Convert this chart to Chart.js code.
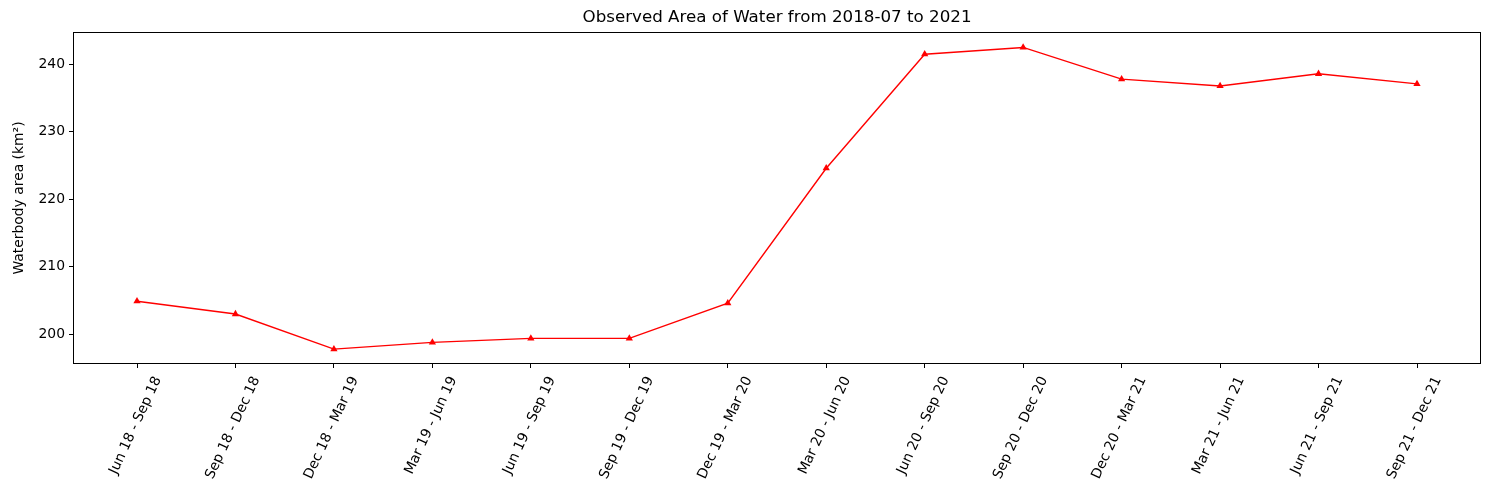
<!DOCTYPE html>
<html>
<head>
<meta charset="utf-8">
<script src="https://cdn.jsdelivr.net/npm/chart.js@4.4.0/dist/chart.umd.min.js"></script>
<style>
  html, body { margin: 0; padding: 0; background: #fff; }
  #wrap { width: 1489px; height: 490px; }
</style>
</head>
<body>
<div id="wrap"><canvas id="c" width="1489" height="490"></canvas></div>
<script>
const categories = ["Jun 18 - Sep 18", "Sep 18 - Dec 18", "Dec 18 - Mar 19", "Mar 19 - Jun 19",
  "Jun 19 - Sep 19", "Sep 19 - Dec 19", "Dec 19 - Mar 20", "Mar 20 - Jun 20",
  "Jun 20 - Sep 20", "Sep 20 - Dec 20", "Dec 20 - Mar 21", "Mar 21 - Jun 21",
  "Jun 21 - Sep 21", "Sep 21 - Dec 21"];
const waterArea = [204.9, 203.0, 197.8, 198.8, 199.4, 199.4, 204.6, 224.6,
  241.5, 242.5, 237.8, 236.8, 238.6, 237.1];
const yTicks = [200, 210, 220, 230, 240];
const chartTitle = 'Observed Area of Water from 2018-07 to 2021';

const FONT = "'DejaVu Sans', sans-serif";

const frame = {
  id: 'frame',
  afterDraw(chart) {
    const a = chart.chartArea, ctx = chart.ctx;
    ctx.save();
    ctx.strokeStyle = '#000';
    ctx.lineWidth = 1;
    ctx.strokeRect(Math.round(a.left) + 0.5, Math.round(a.top) + 0.5,
      Math.round(a.right - a.left) - 1, Math.round(a.bottom - a.top) - 1);
    // title centred over the axes
    ctx.fillStyle = '#000';
    ctx.font = "16.7px " + FONT;
    ctx.textAlign = 'center';
    ctx.textBaseline = 'middle';
    ctx.fillText(chartTitle, (a.left + a.right) / 2, 18);
    ctx.restore();
  }
};

new Chart(document.getElementById('c'), {
  type: 'line',
  data: {
    datasets: [{
      data: waterArea.map((v, i) => ({ x: i, y: v })),
      borderColor: '#ff0000',
      backgroundColor: '#ff0000',
      borderWidth: 1.4,
      pointStyle: 'triangle',
      pointRadius: 4.2,
      pointBorderWidth: 0,
      pointHoverRadius: 4.2,
      tension: 0,
      fill: false
    }]
  },
  options: {
    responsive: false,
    animation: false,
    devicePixelRatio: 1,
    layout: { padding: { left: 0, right: 8, top: 32, bottom: 0 } },
    plugins: {
      legend: { display: false },
      tooltip: { enabled: false },
      title: { display: false }
    },
    scales: {
      x: {
        type: 'linear',
        min: -0.65,
        max: categories.length - 1 + 0.65,
        afterBuildTicks(scale) {
          scale.ticks = categories.map((_, i) => ({ value: i }));
        },
        afterFit(scale) { scale.height = 126; },
        grid: { drawOnChartArea: false, drawTicks: true, tickLength: 4, tickColor: '#000' },
        border: { display: false },
        ticks: {
          autoSkip: false,
          minRotation: 65,
          maxRotation: 65,
          padding: 6,
          labelOffset: 21,
          color: '#000',
          font: { family: FONT, size: 13.9 },
          callback: (v) => categories[v] ?? ''
        }
      },
      y: {
        min: 195.6,
        max: 244.79,
        afterBuildTicks(scale) {
          scale.ticks = yTicks.map(v => ({ value: v }));
        },
        afterFit(scale) { scale.width = 73; },
        grid: { drawOnChartArea: false, drawTicks: true, tickLength: 4, tickColor: '#000' },
        border: { display: false },
        ticks: {
          padding: 4,
          color: '#000',
          font: { family: FONT, size: 13.9 }
        },
        title: {
          display: true,
          text: 'Waterbody area (km\u00B2)',
          color: '#000',
          font: { family: FONT, size: 13.9 },
          padding: { top: 11, bottom: 0 }
        }
      }
    }
  },
  plugins: [frame]
});
</script>
</body>
</html>
